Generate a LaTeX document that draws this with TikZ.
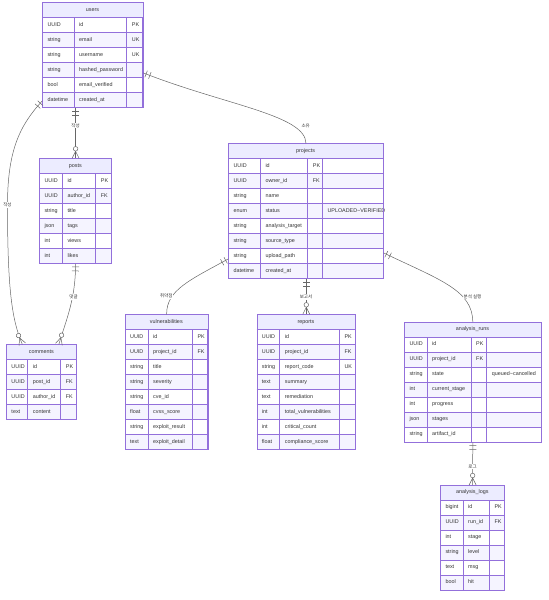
\documentclass[tikz,border=0pt]{standalone}
\usepackage{fontspec}
\setmainfont{Liberation Sans}
\newfontfamily\kofont{Noto Sans CJK KR}
\usetikzlibrary{decorations.markings}

\definecolor{erline}{HTML}{9370DB}
\definecolor{erheadfill}{HTML}{ECECFF}
\definecolor{errow}{HTML}{F5F4FF}
\definecolor{ertext}{HTML}{333333}
\definecolor{erlink}{HTML}{666666}

\tikzset{
  ercell/.style={anchor=west, inner sep=0pt, text height=3.9pt, text depth=1.1pt,
    text=ertext, font=\fontsize{5.4}{6}\selectfont},
  ertitle/.style={inner sep=0pt, text height=3.9pt, text depth=1.1pt,
    text=ertext, font=\fontsize{5.4}{6}\selectfont},
  rel/.style={draw=erlink, line width=0.5pt},
  rellabel/.style={fill=white, inner sep=0.6pt, text=ertext,
    font={\kofont\fontsize{4.5}{5}\selectfont}},
  one/.style={postaction={decorate, decoration={markings,
      mark=at position 3pt with {\draw[erlink, line width=0.5pt] (0,-3.5)--(0,3.5);},
      mark=at position 7pt with {\draw[erlink, line width=0.5pt] (0,-3.5)--(0,3.5);}}}},
  many/.style={postaction={decorate, decoration={markings,
      mark=at position 1 with {\draw[erlink, line width=0.5pt] (0,-3.5)--(-7,0)--(0,3.5);
        \draw[erlink, line width=0.5pt, fill=white] (-9.5,0) circle (2.3);}}}},
}

% #1 name, #2 left, #3 top, #4 right, #5-#7 column lefts, #8 title, #9 rows
\newcommand{\erentity}[9]{%
  \fill[fill=erheadfill] (#2,#3) rectangle (#4,#3+15);
  \node[ertitle] (#1-title) at ({(#2+#4)/2},#3+7.5) {#8};
  \foreach \ty/\nm/\ky/\ex [count=\i] in {#9} {
    \pgfmathsetmacro\ya{#3+15*\i}
    \ifodd\i\relax\else\fill[fill=errow] (#2,\ya) rectangle (#4,\ya+15);\fi
    \draw[erline, line width=0.6pt] (#2,\ya) -- (#4,\ya);
    \node[ercell] (#1-\i-a) at (#2+5,\ya+7.5) {\ty};
    \node[ercell] (#1-\i-b) at (#5+5,\ya+7.5) {\nm};
    \node[ercell] (#1-\i-c) at (#6+5,\ya+7.5) {\ky};
    \node[ercell] (#1-\i-d) at (#7+5,\ya+7.5) {\ex};
    \xdef\nrows{\i}
  }
  \pgfmathsetmacro\ybot{#3+15+15*\nrows}
  \pgfmathsetmacro\erw{#4-#2}
  \pgfmathsetmacro\erh{15+15*\nrows}
  \draw[erline, line width=0.6pt] (#5,#3+15) -- (#5,\ybot) (#6,#3+15) -- (#6,\ybot)
    (#7,#3+15) -- (#7,\ybot);
  \node[draw=erline, line width=0.6pt, minimum width=\erw pt, minimum height=\erh pt,
    inner sep=0pt, anchor=north west] (#1) at (#2,#3) {};
}

\begin{document}
\begin{tikzpicture}[x=1pt,y=-1pt]
\useasboundingbox (0,0) rectangle (549,600);

\erentity{users}{42.3}{2.3}{142.7}{74}{126.7}{142.7}{users}{UUID/id/PK/, string/email/UK/,
  string/username/UK/, string/hashed\_password//, bool/email\_verified//, datetime/created\_at//}
\erentity{posts}{39.3}{158.3}{111.3}{62.3}{95.7}{111.3}{posts}{UUID/id/PK/, UUID/author\_id/FK/,
  string/title//, json/tags//, int/views//, int/likes//}
\erentity{comments}{6.3}{344.3}{76.3}{27.7}{60.7}{76.3}{comments}{UUID/id/PK/, UUID/post\_id/FK/,
  UUID/author\_id/FK/, text/content//}
\erentity{projects}{228.3}{143.3}{383}{260.3}{307.7}{322.3}{projects}{UUID/id/PK/, UUID/owner\_id/FK/,
  string/name//, enum/status//UPLOADED\textasciitilde VERIFIED, string/analysis\_target//,
  string/source\_type//, string/upload\_path//, datetime/created\_at//}
\erentity{vulns}{125}{314.3}{207.7}{148}{192.3}{207.7}{vulnerabilities}{UUID/id/PK/,
  UUID/project\_id/FK/, string/title//, string/severity//, string/cve\_id//, float/cvss\_score//,
  string/exploit\_result//, text/exploit\_detail//}
\erentity{reports}{256.7}{314.3}{355.3}{279.7}{339.3}{355.3}{reports}{UUID/id/PK/,
  UUID/project\_id/FK/, string/report\_code/UK/, text/summary//, text/remediation//,
  int/total\_vulnerabilities//, int/critical\_count//, float/compliance\_score//}
\erentity{runs}{404.3}{322}{540.7}{427}{471}{486.7}{analysis\_runs}{UUID/id/PK/,
  UUID/project\_id/FK/, string/state//queued\textasciitilde cancelled, int/current\_stage//,
  int/progress//, json/stages//, string/artifact\_id//}
\erentity{logs}{440.3}{485}{504.3}{463}{489.3}{504.3}{analysis\_logs}{bigint/id/PK/,
  UUID/run\_id/FK/, int/stage//, string/level//, text/msg//, bool/hit//}

% relations
\draw[rel, one, many] (posts.north |- users.south) -- (posts.north);
\draw[rel, one, many] ([yshift=7pt]users.south west) .. controls (20,125) and (7.5,150) .. (7.5,205)
  .. controls (7.5,290) and (12,320) .. ([xshift=16pt]comments.north west);
\draw[rel, one, many] (posts.south) .. controls (75.5,300) and (66,320) .. ([xshift=-18pt]comments.north east);
\draw[rel, one, many] ([yshift=35pt]users.south east) .. controls (225,105) and (305.7,115) .. (projects.north);
\draw[rel, one, many] ([yshift=20pt]projects.south west) .. controls (190,280) and (166.3,290) .. (vulns.north);
\draw[rel, one, many] (reports.north |- projects.south) -- (reports.north);
\draw[rel, one, many] ([yshift=26pt]projects.south east) .. controls (440,280) and (472.5,290) .. (runs.north);
\draw[rel, one, many] (runs.south) -- (logs.north);

\node[rellabel] (lab-post) at (75.5,125.5) {작성};
\node[rellabel] (lab-comment) at (7.5,205) {작성};
\node[rellabel] (lab-reply) at (73.5,297) {댓글};
\node[rellabel] (lab-own) at (305.7,125.5) {소유};
\node[rellabel] (lab-vuln) at (166.3,296) {취약점};
\node[rellabel] (lab-report) at (306,297) {보고서};
\node[rellabel] (lab-run) at (472.5,296.5) {분석 실행};
\node[rellabel] (lab-log) at (472.5,466.5) {로그};
\end{tikzpicture}
\end{document}
